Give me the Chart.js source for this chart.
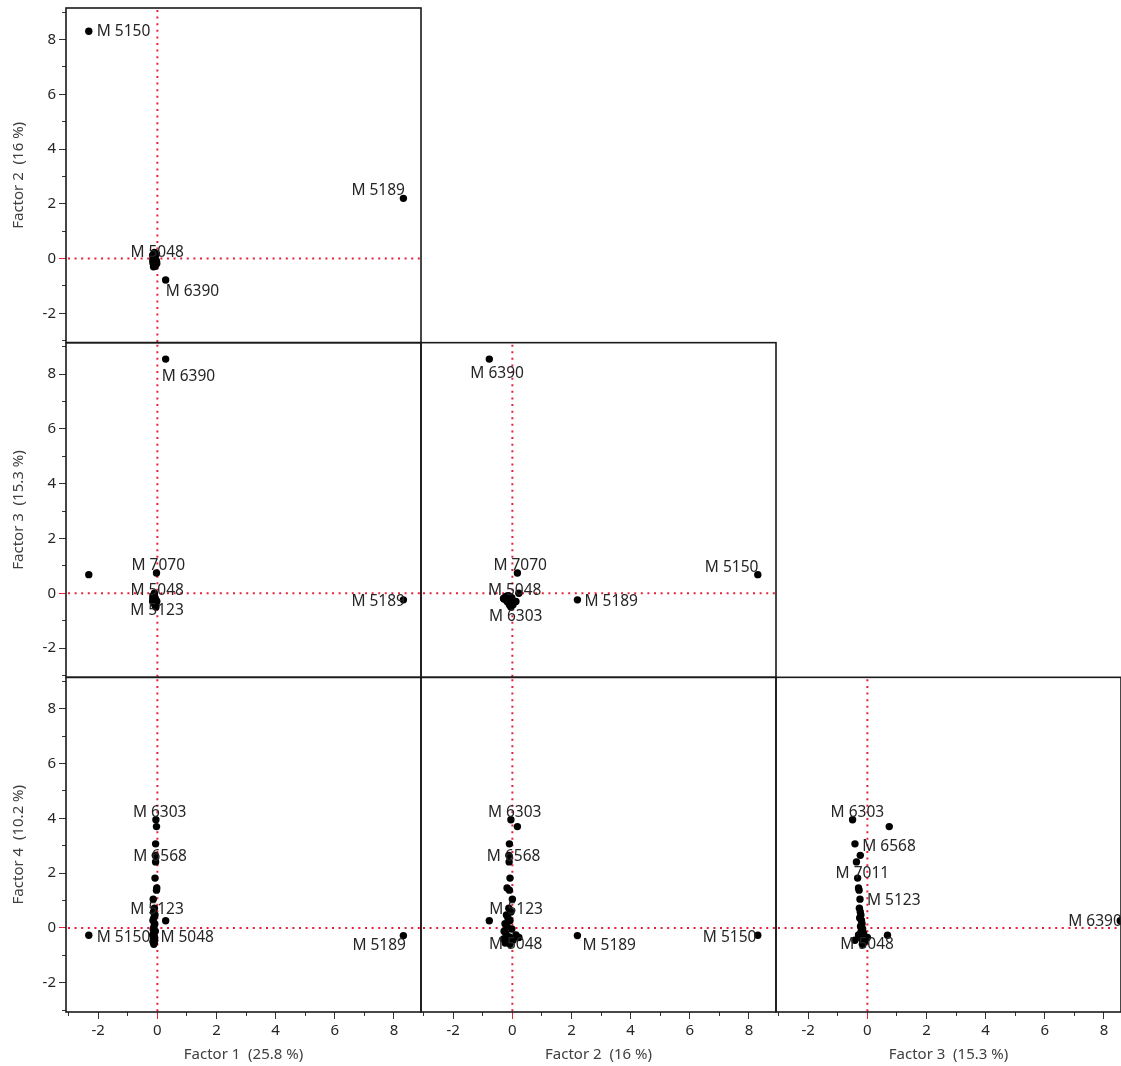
<!DOCTYPE html>
<html>
<head>
<meta charset="utf-8">
<title>Factor scores</title>
<script src="https://cdn.jsdelivr.net/npm/chart.js@4.4.1/dist/chart.umd.min.js"></script>
<style>
  html, body { margin: 0; padding: 0; background: #fff; }
  #wrap { position: relative; width: 1121px; height: 1066px; }
</style>
</head>
<body>
<div id="wrap"><canvas id="matrix" width="1121" height="1066"></canvas></div>
<script>
'use strict';

// marker names ('' = point is not labelled in the plot)
const markers = [
  'M 5150', 'M 5189', 'M 6390', 'M 7070', 'M 6303', '', 'M 6568', '', 'M 7011', '',
  '', 'M 5123', 'M 5048', '', '', '', '', '', '', '',
  '', '', '', '', '', '', '', '', '', ''
];

// factor scores, one value per marker
const factor1 = [
  -2.32, 8.32, 0.28, -0.03, -0.05, -0.06, -0.07, -0.06, -0.08, -0.02,
  -0.03, -0.14, -0.10, -0.10, -0.13, -0.08, -0.12, -0.15, -0.09, -0.11,
  -0.14, -0.07, -0.12, -0.16, -0.10, -0.13, -0.09, -0.15, -0.11, -0.12
];
const factor2 = [
  8.30, 2.20, -0.78, 0.17, -0.05, -0.10, -0.12, -0.11, -0.08, -0.18,
  -0.10, 0.00, 0.22, -0.12, -0.05, -0.20, -0.15, -0.08, -0.25, -0.18,
  -0.02, -0.28, -0.22, 0.12, -0.10, -0.30, 0.02, -0.16, -0.24, -0.08
];
const factor3 = [
  0.68, -0.24, 8.55, 0.74, -0.50, -0.42, -0.24, -0.37, -0.33, -0.30,
  -0.28, -0.25, 0.00, -0.27, -0.24, -0.22, -0.26, -0.20, -0.18, -0.23,
  -0.16, -0.21, -0.13, -0.30, -0.11, -0.19, -0.42, -0.09, -0.14, -0.17
];
const factor4 = [
  -0.27, -0.28, 0.26, 3.70, 3.95, 3.07, 2.65, 2.41, 1.82, 1.46,
  1.38, 1.05, -0.35, 0.72, 0.58, 0.47, 0.36, 0.27, 0.15, 0.06,
  -0.04, -0.12, -0.19, -0.26, -0.33, -0.40, -0.45, -0.50, -0.55, -0.60
];

const factorTitles = ['Factor 1  (25.8 %)', 'Factor 2  (16 %)', 'Factor 3  (15.3 %)', 'Factor 4  (10.2 %)'];
const tickLabels = [-2, 0, 2, 4, 6, 8];

const factors = [factor1, factor2, factor3, factor4];

// lower triangle of the matrix: [factor on x, factor on y]
const panels = [[1, 2], [1, 3], [2, 3], [1, 4], [2, 4], [3, 4]];

// where each name sits relative to its dot: [dx to text start, dy to text middle]
const labelSpots = {
  '1-2': { 'M 5150': [8, 0], 'M 5189': [-52, -8], 'M 5048': [-24, 0], 'M 6390': [0, 12] },
  '1-3': { 'M 6390': [-4, 17], 'M 7070': [-25, -7], 'M 5048': [-24, -3], 'M 5123': [-23, 10], 'M 5189': [-52, 2] },
  '2-3': { 'M 6390': [-19, 14], 'M 7070': [-24, -7], 'M 5048': [-31, -3], 'M 6303': [-22, 10], 'M 5189': [7, 2], 'M 5150': [-53, -7] },
  '1-4': { 'M 6303': [-23, -7], 'M 6568': [-22, 1], 'M 5123': [-23, 10], 'M 5150': [8, 2], 'M 5048': [6, 0], 'M 5189': [-51, 10] },
  '2-4': { 'M 6303': [-23, -7], 'M 6568': [-22, 1], 'M 5123': [-23, 10], 'M 5048': [-30, 7], 'M 5189': [5, 10], 'M 5150': [-55, 2] },
  '3-4': { 'M 6303': [-22, -7], 'M 6568': [2, -9], 'M 7011': [-22, -5], 'M 5123': [7, 1], 'M 5048': [-27, 7], 'M 6390': [-52, 1] }
};

const zeroRed = '#e8203a';
const inkColor = '#262626';
const fontFamily = '"Noto Sans", "Open Sans", sans-serif';

const X_MIN = -3.09, X_MAX = 8.915;
const Y_MIN = -3.07, Y_MAX = 9.15;
const colWeights = [355, 355, 345]; // last column is cut by the window edge

const datasets = panels.map(([fx, fy]) => ({
  label: factorTitles[fx - 1] + ' / ' + factorTitles[fy - 1],
  xAxisID: 'x' + fx,
  yAxisID: 'y' + fy,
  data: markers.map((m, i) => ({ x: factors[fx - 1][i], y: factors[fy - 1][i] })),
  backgroundColor: '#000',
  borderWidth: 0,
  pointRadius: 3.7,
  pointHoverRadius: 3.7
}));

const tickGrid = (axis) => ({
  display: true,
  drawOnChartArea: false,
  drawTicks: true,
  tickLength: 7,
  tickWidth: 1,
  tickColor: (c) => (c.tick && c.tick.value === 0 ? zeroRed : '#333'),
  // odd values get a short tick (dash keeps only the part next to the frame)
  tickBorderDash: (c) => {
    const v = c.tick ? Math.round(c.tick.value) : 0;
    if (v % 2 === 0) return [];
    return axis === 'x' ? [4, 40] : [0, 3, 4, 40];
  }
});

const tickOpts = {
  stepSize: 1,
  autoSkip: false,
  includeBounds: false,
  maxRotation: 0,
  padding: 3,
  color: inkColor,
  font: { family: fontFamily, size: 15 },
  callback: (v) => (tickLabels.includes(Math.round(v)) && Math.abs(v - Math.round(v)) < 1e-6 ? String(Math.round(v)) : '')
};

const scales = {};
[1, 2, 3].forEach((f, k) => {
  scales['x' + f] = {
    type: 'linear',
    position: 'bottom',
    stack: 'cols',
    stackWeight: colWeights[k],
    weight: k + 1,
    min: X_MIN,
    max: X_MIN + (X_MAX - X_MIN) * colWeights[k] / colWeights[0],
    border: { display: false },
    grid: tickGrid('x'),
    ticks: tickOpts,
    title: {
      display: true,
      text: factorTitles[f - 1],
      color: '#404040',
      font: { family: fontFamily, size: 15 },
      padding: { top: 0, bottom: 2 }
    },
    afterFit: (s) => { s.height = 54; s.paddingLeft = 0; s.paddingRight = 0; }
  };
});
[2, 3, 4].forEach((f, k) => {
  scales['y' + f] = {
    type: 'linear',
    position: 'left',
    stack: 'rows',
    stackWeight: 1,
    weight: 3 - k,
    min: Y_MIN,
    max: Y_MAX,
    border: { display: false },
    grid: tickGrid('y'),
    ticks: tickOpts,
    title: {
      display: true,
      text: factorTitles[f - 1],
      color: '#404040',
      font: { family: fontFamily, size: 15 },
      padding: { top: 10, bottom: 0 }
    },
    afterFit: (s) => { s.width = 66; s.paddingTop = 0; s.paddingBottom = 0; }
  };
});

// frames, red zero lines and point names
const matrixDecor = {
  id: 'matrixDecor',
  beforeDatasetsDraw(chart) {
    const ctx = chart.ctx;
    ctx.save();
    ctx.strokeStyle = zeroRed;
    ctx.lineWidth = 2;
    ctx.setLineDash([2, 4.6]);
    panels.forEach(([fx, fy]) => {
      const xs = chart.scales['x' + fx];
      const ys = chart.scales['y' + fy];
      const px = xs.getPixelForValue(0);
      const py = ys.getPixelForValue(0);
      ctx.beginPath();
      ctx.moveTo(px, ys.top + 2);
      ctx.lineTo(px, ys.bottom);
      ctx.moveTo(xs.left + 2, py);
      ctx.lineTo(xs.right, py);
      ctx.stroke();
    });
    ctx.restore();
  },
  afterDatasetsDraw(chart) {
    const ctx = chart.ctx;
    ctx.save();
    ctx.strokeStyle = '#1a1a1a';
    ctx.lineWidth = 1.6;
    panels.forEach(([fx, fy]) => {
      const xs = chart.scales['x' + fx];
      const ys = chart.scales['y' + fy];
      ctx.strokeRect(xs.left, ys.top, xs.right - xs.left, ys.bottom - ys.top);
    });

    ctx.fillStyle = inkColor;
    ctx.font = '15.5px ' + fontFamily;
    ctx.textAlign = 'left';
    ctx.textBaseline = 'middle';
    panels.forEach(([fx, fy], di) => {
      const spots = labelSpots[fx + '-' + fy];
      const pts = chart.getDatasetMeta(di).data;
      markers.forEach((name, i) => {
        if (!name || !spots[name]) return;
        const [dx, dy] = spots[name];
        ctx.fillText(name, pts[i].x + dx, pts[i].y + dy);
      });
    });
    ctx.restore();
  }
};

const ctx = document.getElementById('matrix');

new Chart(ctx, {
  type: 'scatter',
  data: { datasets: datasets },
  options: {
    responsive: false,
    animation: false,
    layout: { autoPadding: false, padding: { top: 8, left: 0, right: 0, bottom: 0 } },
    plugins: {
      legend: { display: false },
      tooltip: { enabled: false }
    },
    scales: scales
  },
  plugins: [matrixDecor]
});
</script>
</body>
</html>
